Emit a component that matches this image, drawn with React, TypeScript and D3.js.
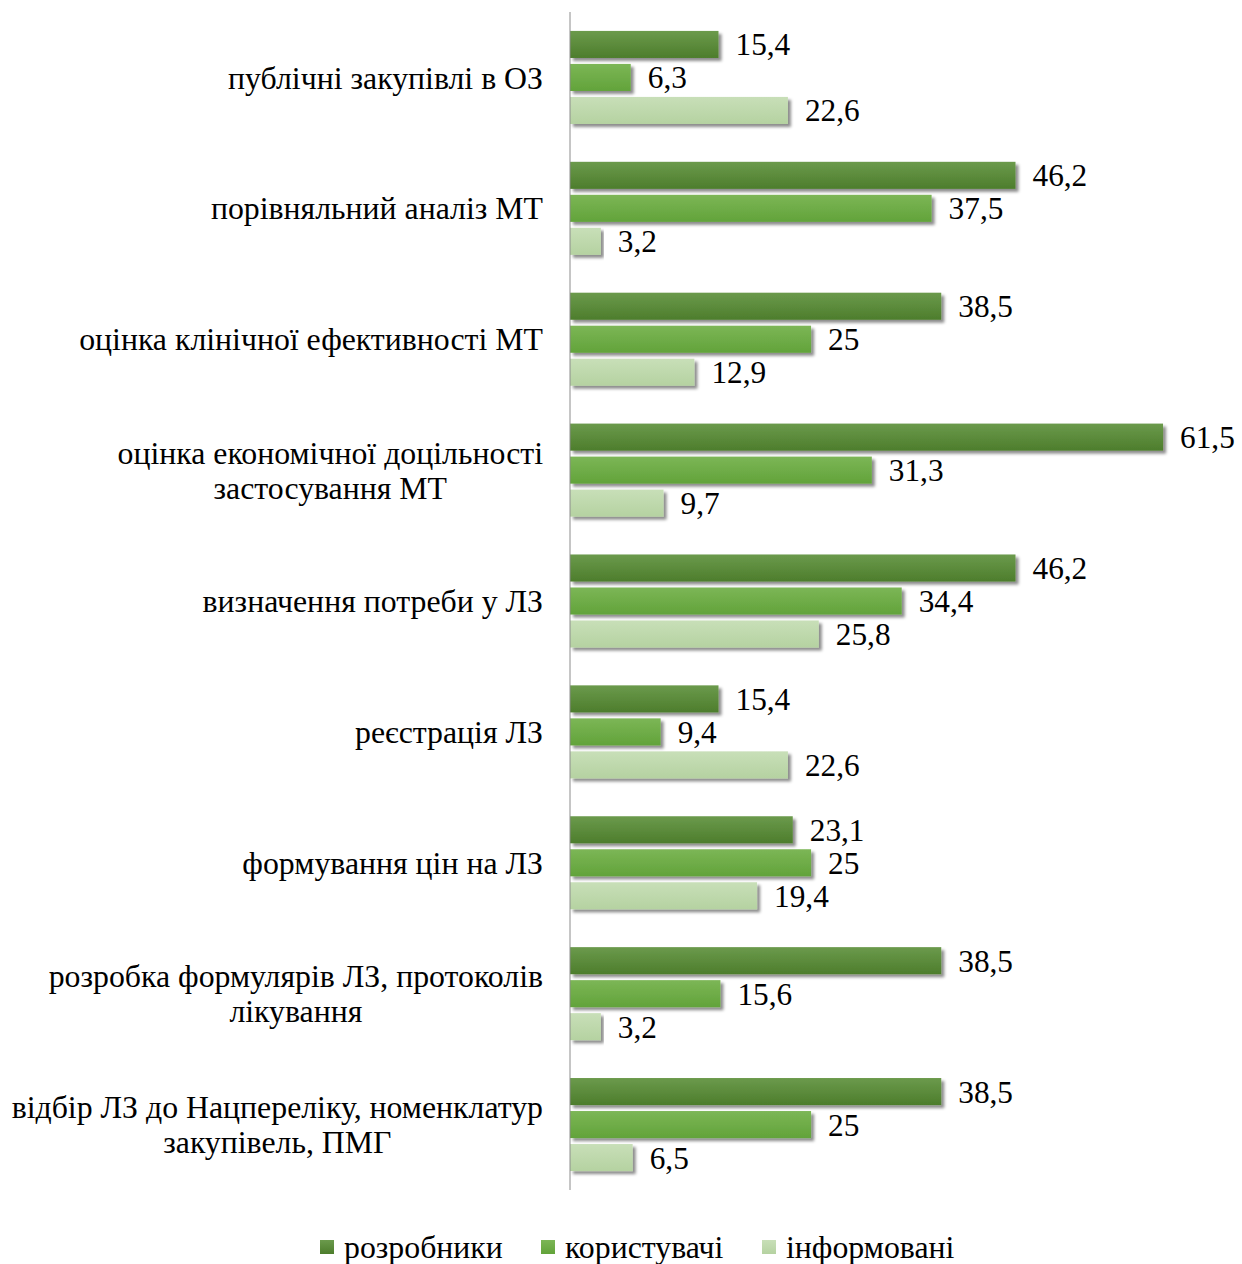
import React from "react";
import * as d3 from "d3";

const categories: string[][] = [
  ["публічні закупівлі в ОЗ"],
  ["порівняльний аналіз МТ"],
  ["оцінка клінічної ефективності МТ"],
  ["оцінка економічної доцільності", "застосування МТ"],
  ["визначення потреби у ЛЗ"],
  ["реєстрація ЛЗ"],
  ["формування цін на ЛЗ"],
  ["розробка формулярів ЛЗ, протоколів", "лікування"],
  ["відбір ЛЗ до Нацпереліку, номенклатур", "закупівель, ПМГ"],
];

const developers = [15.4, 46.2, 38.5, 61.5, 46.2, 15.4, 23.1, 38.5, 38.5];
const users = [6.3, 37.5, 25, 31.3, 34.4, 9.4, 25, 15.6, 25];
const informed = [22.6, 3.2, 12.9, 9.7, 25.8, 22.6, 19.4, 3.2, 6.5];

const seriesNames = ["розробники", "користувачі", "інформовані"];
const seriesValues = [developers, users, informed];
const gradients = [
  ["#6b9a4c", "#4d7d2c"],
  ["#7cb656", "#62a33a"],
  ["#c8dfb8", "#b5d2a1"],
];

const W = 1242;
const H = 1264;
const axisX = 570;
const top = 12;
const bottom = 1190;
const font = "'Liberation Serif', 'Times New Roman', serif";
const fs = 31.3;
const catFs = 31.8;

export default function App() {
  const x = d3.scaleLinear().domain([0, 70]).range([axisX, axisX + 675]);
  const y = d3
    .scaleBand<number>()
    .domain(d3.range(categories.length))
    .range([top, bottom]);
  const inner = d3
    .scaleBand<number>()
    .domain([0, 1, 2])
    .range([y.bandwidth() / 2 - 49.5, y.bandwidth() / 2 + 49.5])
    .paddingInner(0.18)
    .paddingOuter(0.09);

  const fmt = (v: number) => String(v).replace(".", ",");
  const legendX = [320, 541, 762];

  return (
    <svg
      width={W}
      height={H}
      style={{ position: "absolute", left: 0, top: 0, background: "#fff" }}
    >
      <defs>
        {gradients.map((g, i) => (
          <linearGradient key={i} id={`g${i}`} x1="0" y1="0" x2="0" y2="1">
            <stop offset="0%" stopColor={g[0]} />
            <stop offset="100%" stopColor={g[1]} />
          </linearGradient>
        ))}
        <filter id="shadow" x="-5%" y="-30%" width="115%" height="180%">
          <feDropShadow dx="3" dy="3" stdDeviation="1.6" floodColor="#000" floodOpacity="0.45" />
        </filter>
      </defs>

      {categories.map((lines, ci) => {
        const y0 = y(ci)!;
        return (
          <g key={ci} transform={`translate(0,${y0})`}>
            {seriesValues.map((vals, si) => {
              const by = inner(si)!;
              const bh = inner.bandwidth();
              const v = vals[ci];
              return (
                <g key={si}>
                  <rect
                    x={axisX}
                    y={by}
                    width={x(v) - axisX}
                    height={bh}
                    fill={`url(#g${si})`}
                    filter="url(#shadow)"
                  />
                  <text
                    x={x(v) + 17}
                    y={by + bh / 2}
                    dy="0.35em"
                    fontFamily={font}
                    fontSize={fs}
                    fill="#000"
                  >
                    {fmt(v)}
                  </text>
                </g>
              );
            })}
          </g>
        );
      })}

      {categories.map((lines, ci) => {
        const cy = y(ci)! + y.bandwidth() / 2;
        const lh = 35;
        const startY = cy - ((lines.length - 1) * lh) / 2;
        return (
          <CategoryLabel key={ci} lines={lines} right={543} startY={startY} lh={lh} />
        );
      })}

      <line x1={axisX} x2={axisX} y1={top} y2={bottom} stroke="#8c8c8c" strokeWidth={1} />

      {seriesNames.map((n, i) => (
        <g key={n} transform={`translate(${legendX[i]},0)`}>
          <rect x={0} y={1240} width={14} height={14} fill={`url(#g${i})`} />
          <text x={24} y={1247} dy="0.35em" fontFamily={font} fontSize={catFs}>
            {n}
          </text>
        </g>
      ))}
    </svg>
  );
}

// Right-aligned label block whose lines are centred on each other
function CategoryLabel({
  lines,
  right,
  startY,
  lh,
}: {
  lines: string[];
  right: number;
  startY: number;
  lh: number;
}) {
  const ref = React.useRef<SVGGElement>(null);
  React.useEffect(() => {
    if (!ref.current) return;
    const g = d3.select(ref.current);
    const nodes = g.selectAll<SVGTextElement, unknown>("text").nodes();
    const widths = nodes.map((n) => n.getComputedTextLength());
    const maxW = d3.max(widths) ?? 0;
    const center = right - maxW / 2;
    nodes.forEach((n) => n.setAttribute("x", String(center)));
  }, [lines, right]);
  return (
    <g ref={ref}>
      {lines.map((l, i) => (
        <text
          key={i}
          x={right}
          y={startY + i * lh}
          dy="0.35em"
          textAnchor="middle"
          fontFamily={font}
          fontSize={catFs}
          fill="#000"
        >
          {l}
        </text>
      ))}
    </g>
  );
}
